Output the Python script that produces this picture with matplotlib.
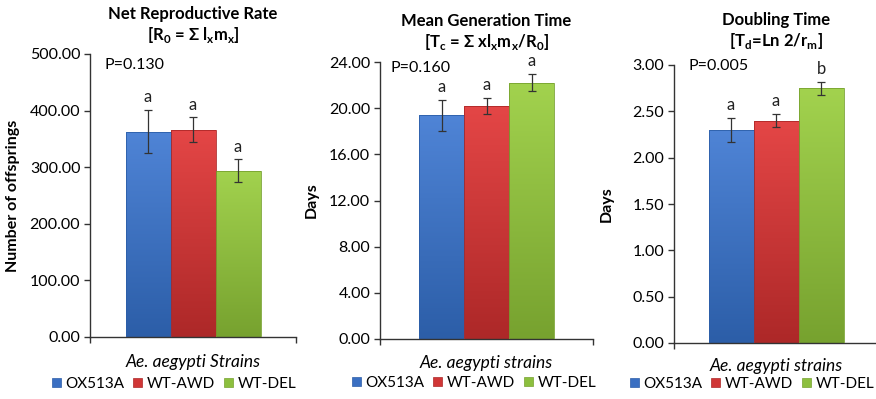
import matplotlib
matplotlib.use("Agg")
import matplotlib.pyplot as plt
import numpy as np
from matplotlib.colors import LinearSegmentedColormap
from matplotlib.patches import Patch

plt.rcParams["font.family"] = ["Lato", "DejaVu Sans"]
plt.rcParams["mathtext.fontset"] = "custom"
plt.rcParams["mathtext.rm"] = "Lato"
plt.rcParams["mathtext.bf"] = "Lato:bold"

# -----------------------------
# Data
# -----------------------------
strains = ["OX513A", "WT-AWD", "WT-DEL"]

r0_mean = [363, 366, 294]
r0_err = [38, 22, 20]
r0_letters = ["a", "a", "a"]

tc_mean = [19.4, 20.2, 22.2]
tc_err = [1.35, 0.7, 0.75]
tc_letters = ["a", "a", "a"]

td_mean = [2.30, 2.40, 2.75]
td_err = [0.13, 0.07, 0.07]
td_letters = ["a", "a", "b"]

titles = [
    "Net Reproductive Rate\n[R$_\\mathbf{0}$ = Σ l$_\\mathbf{x}$m$_\\mathbf{x}$]",
    "Mean Generation Time\n[T$_\\mathbf{c}$ = Σ xl$_\\mathbf{x}$m$_\\mathbf{x}$/R$_\\mathbf{0}$]",
    "Doubling Time\n[T$_\\mathbf{d}$=Ln 2/r$_\\mathbf{m}$]",
]
ylabels = ["Number of offsprings", "Days", "Days"]
xlabels = ["Ae. aegypti Strains", "Ae. aegypti strains", "Ae. aegypti strains"]
p_values = ["P=0.130", "P=0.160", "P=0.005"]
yticks = [np.arange(0, 501, 100), np.arange(0, 24.1, 4), np.arange(0, 3.01, 0.5)]

# top / bottom colours of each bar gradient
top_cols = ["#4f84d6", "#e44646", "#a2d24e"]
bot_cols = ["#2c5ea8", "#ad2828", "#77a22f"]
legend_cols = ["#3a6fc2", "#d03636", "#8cbf3e"]

# -----------------------------
# Layout (pixels of the 876x399 figure)
# -----------------------------
W, H = 876, 399
# left, right, bottom, top of each axes
boxes = [(90, 296, 337, 54), (380, 593, 339, 62), (674, 878, 343, 65)]
bar_px = 45
ylabel_x = [-0.34, -0.286, -0.294]
p_pos = [(0.07, 0.96), (0.05, 0.978), (0.07, 0.995)]
title_pad = [10, 11, 14]
legend_y = [384, 383, 384]
legend_x = [174, 474, 752]
xlabel_y = [362, 363, 366]

fig = plt.figure(figsize=(W / 100, H / 100), dpi=100)

panels = [
    (r0_mean, r0_err, r0_letters),
    (tc_mean, tc_err, tc_letters),
    (td_mean, td_err, td_letters),
]

for i, (means, errs, letters) in enumerate(panels):
    l, r, b, t = boxes[i]
    ax = fig.add_axes([l / W, 1 - b / H, (r - l) / W, (b - t) / H])
    half = (r - l) / bar_px / 2
    x = np.array([-1, 0, 1])
    bars = ax.bar(x, means, width=1.0, color="none", edgecolor="none", zorder=2)
    grad = np.linspace(0, 1, 100).reshape(-1, 1)
    for j, patch in enumerate(bars):
        cmap = LinearSegmentedColormap.from_list("g", [bot_cols[j], top_cols[j]])
        im = ax.imshow(grad, cmap=cmap, aspect="auto", origin="lower",
                       extent=[x[j] - 0.5, x[j] + 0.5, 0, means[j]], zorder=2)
        im.set_clip_path(patch)
        ax.bar(x[j], means[j], width=1.0, color="none",
               edgecolor=bot_cols[j], linewidth=0.6, zorder=3)
    ax.errorbar(x, means, yerr=errs, fmt="none", ecolor="#333333",
                elinewidth=0.9, capsize=3, capthick=0.9, zorder=4)
    top = yticks[i][-1]
    for j in range(3):
        ax.annotate(letters[j], (x[j], means[j] + errs[j]), xytext=(0, 5.5),
                    textcoords="offset points", ha="center", va="baseline",
                    fontsize=12, color="#222222")

    ax.set_xlim(-half, half)
    ax.set_ylim(0, top)
    ax.set_yticks(yticks[i])
    ax.set_yticklabels([f"{v:.2f}" for v in yticks[i]], fontsize=11.5)
    ax.set_xticks([-half, half])
    ax.set_xticklabels([])
    ax.tick_params(axis="both", direction="out", length=4, width=1,
                   color="#333333", pad=3)
    for s in ["top", "right"]:
        ax.spines[s].set_visible(False)
    for s in ["left", "bottom"]:
        ax.spines[s].set_color("#333333")
        ax.spines[s].set_linewidth(1)

    ax.set_ylabel(ylabels[i], fontsize=11.5, fontweight="bold")
    ax.yaxis.set_label_coords(ylabel_x[i], 0.5)
    ax.set_title(titles[i], fontsize=12, fontweight="bold", pad=title_pad[i],
                 linespacing=1.2)
    ax.text(p_pos[i][0], p_pos[i][1], p_values[i], transform=ax.transAxes,
            ha="left", va="center", fontsize=11.5)

    fig.text((l + r) / 2 / W, 1 - xlabel_y[i] / H, xlabels[i], ha="center",
             va="center", fontsize=12.5, style="italic")

    handles = [Patch(facecolor=legend_cols[j], edgecolor=bot_cols[j],
                     linewidth=0.5, label=strains[j]) for j in range(3)]
    fig.legend(handles=handles, loc="center", ncol=3, frameon=False,
               bbox_to_anchor=(legend_x[i] / W, 1 - legend_y[i] / H),
               fontsize=11, handlelength=0.6, handleheight=0.6,
               handletextpad=0.3, columnspacing=0.55, borderaxespad=0,
               borderpad=0)

fig.savefig("out.png", dpi=100)
